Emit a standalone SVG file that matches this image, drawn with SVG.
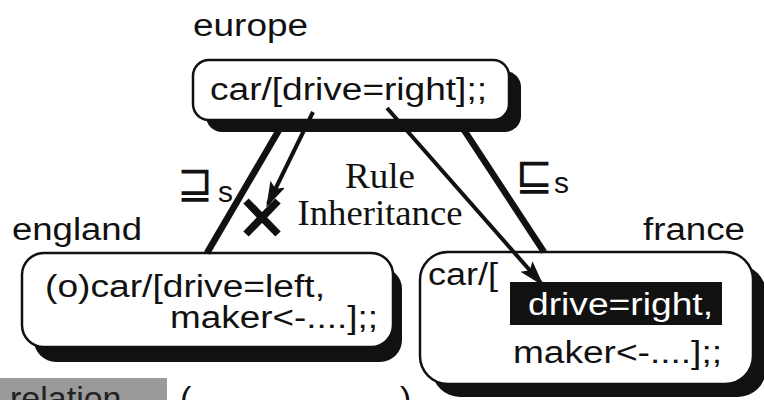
<svg xmlns="http://www.w3.org/2000/svg" width="764" height="400" viewBox="0 0 764 400">
<defs>
<style>
.sans{font-family:"Liberation Sans",Arial,sans-serif;font-size:31px;fill:#111}
.serif{font-family:"Liberation Serif","Times New Roman",serif;font-size:35px;fill:#111}
.sym{font-family:"DejaVu Sans",sans-serif;font-size:45px;fill:#111}
.sub{font-family:"Liberation Sans",Arial,sans-serif;font-size:30px;fill:#111}
.box{fill:#fff;stroke:#111;stroke-width:2.5}
.shadow{fill:#111}
.thick{stroke:#111;stroke-width:6.5;fill:none}
.arrow{stroke:#111;stroke-width:4;fill:none;marker-end:url(#ah)}
</style>
<marker id="ah" markerUnits="userSpaceOnUse" markerWidth="30" markerHeight="18" refX="22" refY="8" orient="auto">
<path d="M0,0 L26,8 L0,16 L5,8 z" fill="#111"/>
</marker>
</defs>
<rect width="764" height="400" fill="#fff"/>

<g id="europe">
<text class="sans" x="193" y="36" textLength="115" lengthAdjust="spacingAndGlyphs">europe</text>
<rect class="shadow" x="206" y="71" width="315" height="61" rx="16"/>
<rect class="box" x="193" y="60" width="316" height="60" rx="16"/>
<text class="sans" x="210" y="100" textLength="277" lengthAdjust="spacingAndGlyphs">car/[drive=right];;</text>
</g>

<g id="england">
<text class="sans" x="12" y="240" textLength="130" lengthAdjust="spacingAndGlyphs">england</text>
<rect class="shadow" x="34" y="267" width="368" height="95" rx="22"/>
<rect class="box" x="22" y="253" width="371" height="94" rx="22"/>
<text class="sans" x="45" y="297" textLength="280" lengthAdjust="spacingAndGlyphs">(o)car/[drive=left,</text>
<text class="sans" x="170" y="328" textLength="208" lengthAdjust="spacingAndGlyphs">maker&lt;-....];;</text>
</g>

<g id="france">
<text class="sans" x="643" y="240" textLength="102" lengthAdjust="spacingAndGlyphs">france</text>
<rect class="shadow" x="432" y="265" width="334" height="132" rx="28"/>
<rect class="box" x="420" y="252" width="333" height="132" rx="28"/>
<text class="sans" x="428" y="285" textLength="70" lengthAdjust="spacingAndGlyphs">car/[</text>
<rect x="510" y="282" width="212" height="43" fill="#111"/>
<text class="sans" x="528" y="315" textLength="185" lengthAdjust="spacingAndGlyphs" style="fill:#fff">drive=right,</text>
<text class="sans" x="513" y="363" textLength="209" lengthAdjust="spacingAndGlyphs">maker&lt;-....];;</text>
</g>

<g id="connectors">
<line class="thick" x1="279" y1="130" x2="207" y2="253"/>
<line class="thick" x1="464" y1="130" x2="544" y2="252"/>
<line class="arrow" x1="313" y1="112" x2="268" y2="204"/>
<line class="arrow" x1="387" y1="108" x2="541" y2="283"/>
</g>

<g id="labels">
<text class="sym" x="177" y="198" textLength="36" lengthAdjust="spacingAndGlyphs">⊒</text>
<text class="sub" x="218" y="202">s</text>
<text class="sym" x="515" y="190" textLength="38" lengthAdjust="spacingAndGlyphs">⊑</text>
<text class="sub" x="554" y="193">s</text>
<g id="cross" stroke="#111" stroke-width="7.5">
<line x1="246" y1="201" x2="278" y2="234"/>
<line x1="278" y1="201" x2="246" y2="234"/>
</g>
<text class="serif" x="380" y="188" text-anchor="middle" textLength="70" lengthAdjust="spacingAndGlyphs">Rule</text>
<text class="serif" x="380" y="225" text-anchor="middle" textLength="165" lengthAdjust="spacingAndGlyphs">Inheritance</text>
</g>

<g id="footer">
<rect x="0" y="378" width="167" height="22" fill="#9a9a9a"/>
<text class="sans" x="10" y="410" style="font-size:34px;fill:#222">relation</text>
<text class="sans" x="180" y="410" style="font-size:34px">(</text>
<text class="sans" x="400" y="410" style="font-size:34px">)</text>
</g>
</svg>
